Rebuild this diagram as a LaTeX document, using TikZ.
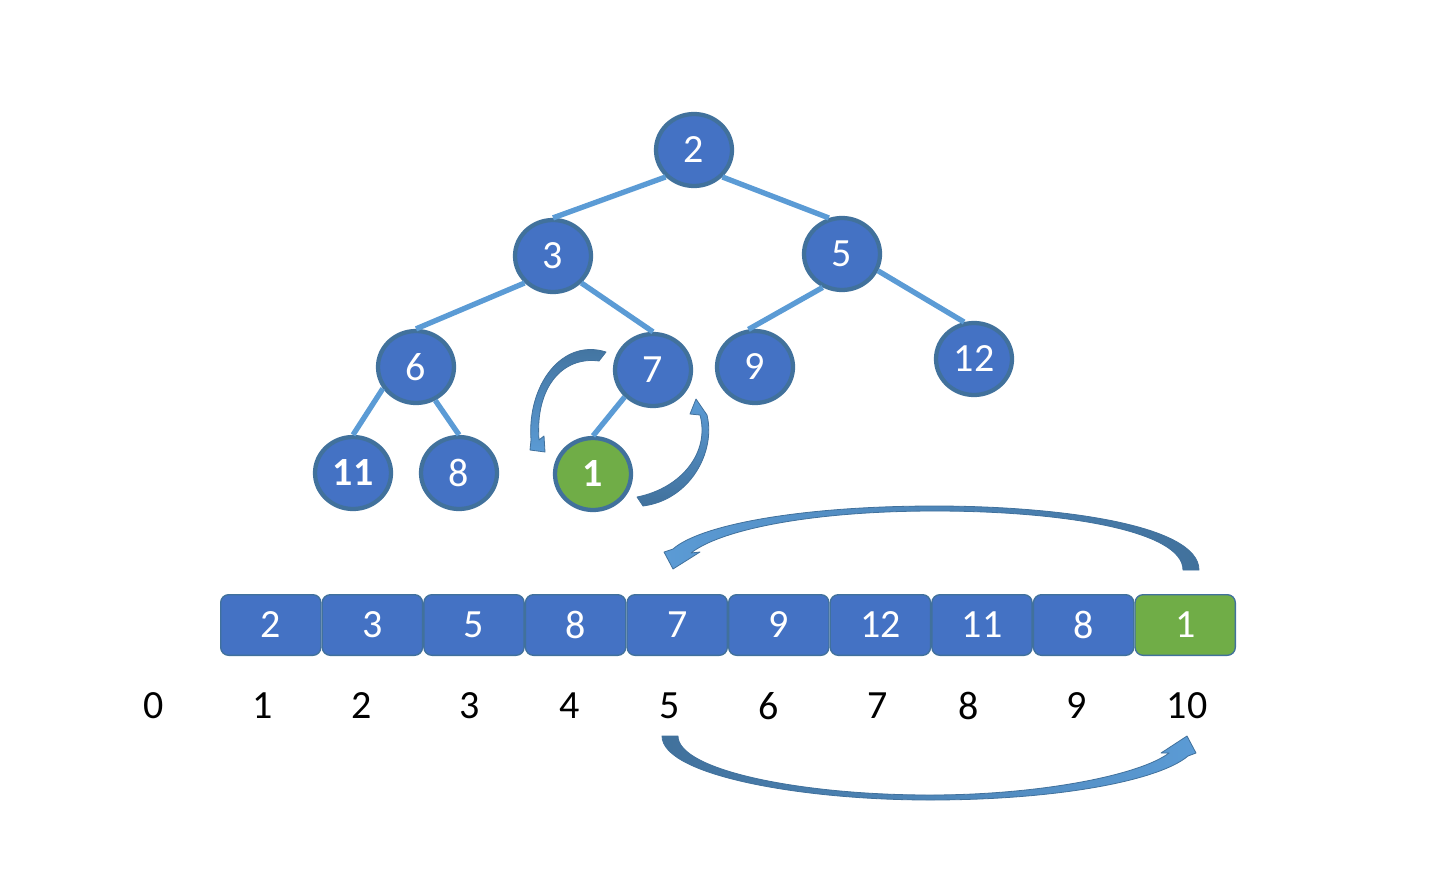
\documentclass[tikz,border=0pt]{standalone}
\usepackage{fontspec}
\setmainfont{Carlito}
\usetikzlibrary{shapes.geometric}
\definecolor{nodeblue}{HTML}{4472C4}
\definecolor{rimblue}{HTML}{41719C}
\definecolor{edgeblue}{HTML}{5B9BD5}
\definecolor{leafgreen}{HTML}{70AD47}

\begin{document}
\begin{tikzpicture}[x=0.75pt,y=-0.75pt,
	heap/.style={ellipse,draw=rimblue,line width=3.2pt,fill=nodeblue,text=white,minimum width=57pt,minimum height=54pt,inner sep=0pt,font=\fontsize{30}{36}\selectfont},
	cell/.style={draw=rimblue,line width=1pt,fill=nodeblue,text=white,rounded corners=6pt,minimum width=75.2pt,minimum height=45.5pt,inner sep=0pt,font=\fontsize{30}{36}\selectfont},
	idx/.style={inner sep=0pt,font=\fontsize{30}{36}\selectfont},
	link/.style={draw=edgeblue,line width=4pt},
	swing/.style={draw=rimblue,line width=0.6pt,line join=round}]
	\useasboundingbox (0,0) rectangle (1431,885);
	% the heap as a tree
	\node [heap] (h1) at (694,150) {2};
	\node [heap] (h2) at (553,256) {3};
	\node [heap] (h3) at (842,254) {5};
	\node [heap] (h4) at (416,367) {6};
	\node [heap] (h5) at (653,370) {7};
	\node [heap] (h6) at (755,367) {9};
	\node [heap] (h7) at (974,359) {12};
	\node [heap,font=\fontsize{30}{36}\selectfont\bfseries] (h8) at (353,473) {11};
	\node [heap] (h9) at (459,473) {8};
	\node [heap,fill=leafgreen,font=\fontsize{30}{36}\selectfont\bfseries] (h10) at (593,474) {1};
	\draw [link] (h1.south west) -- (h2.north) (h1.south east) -- (h3.110);
	\draw [link] (h2.south west) -- (h4.north) (h2.south east) -- (h5.north);
	\draw [link] (h3.240) -- (h6.100) (h3.335) -- (h7.105);
	\draw [link] (h4.213) -- (h8.north) (h4.300) -- (h9.north);
	\draw [link] (h5.south west) -- (h10.north);
	% the heap as an array
	\foreach \v [count=\i] in {2,3,5,8,7,9,12,11,8}
		\node [cell] (a\i) at ({169.2+101.6*\i},625) {\v};
	\node [cell,fill=leafgreen] (a10) at (1185.2,625) {1};
	\foreach \x [count=\i from 0] in {154,263,362,470,570,670,769,878,969,1077,1187}
		\node [idx] (k\i) at (\x,706) {\i};
	% swap arrows
	\path [swing,top color=rimblue,bottom color=edgeblue] (606,352) .. controls (562,338) and (527,385) .. (531,440) -- (530,450) -- (545,452) -- (544,436) -- (539,440) .. controls (535,388) and (562,356) .. (599,361) -- cycle;
	\path [swing,top color=edgeblue,bottom color=rimblue] (643,506) .. controls (690,500) and (716,452) .. (707,415) -- (696,399) -- (690,414) -- (700,415) .. controls (710,452) and (682,488) .. (637,497) -- cycle;
	\path [swing,left color=edgeblue,right color=rimblue] (1199,570) .. controls (1199,525) and (1060,506) .. (935,506) .. controls (800,506) and (700,525) .. (673,549) -- (664,552) -- (673,569) -- (700,552) -- (691,553) .. controls (720,530) and (810,511) .. (935,511) .. controls (1060,511) and (1183,530) .. (1183,570) -- cycle;
	\path [swing,left color=rimblue,right color=edgeblue] (662,736) .. controls (662,775) and (800,800) .. (930,800) .. controls (1060,800) and (1160,780) .. (1188,756) -- (1196,753) -- (1187,736) -- (1161,753) -- (1169,753) .. controls (1140,775) and (1040,795) .. (930,795) .. controls (800,795) and (678,770) .. (678,736) -- cycle;
\end{tikzpicture}
\end{document}
